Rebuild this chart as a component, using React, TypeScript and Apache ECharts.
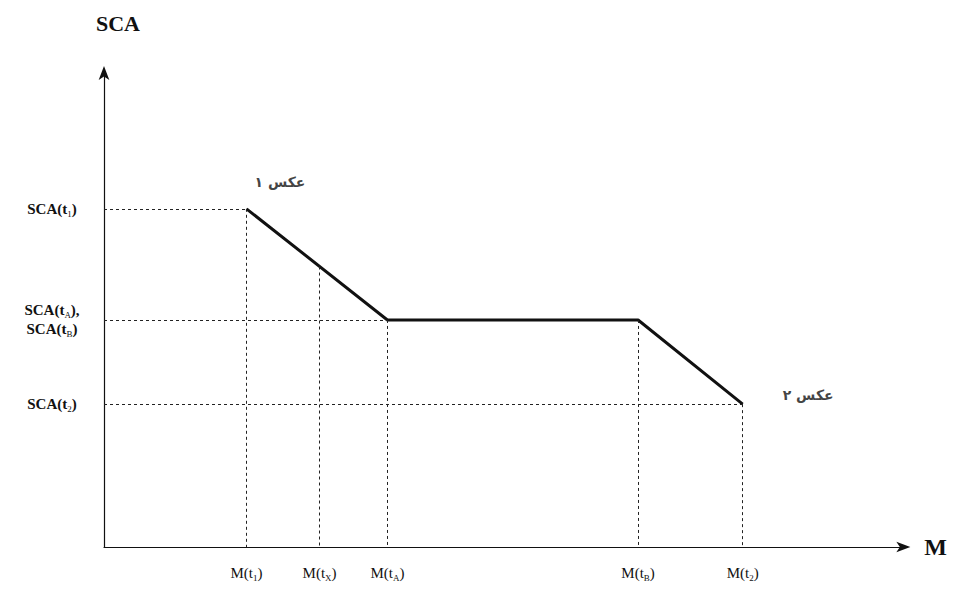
import { useEffect, useRef } from 'react'
import * as echarts from 'echarts'

// x positions of the M(t) ticks and their subscripts
const xTicks = [17.85, 27, 35.5, 66.9, 80]
const xSubs = ['1', 'X', 'A', 'B', '2']
// y levels of SCA ticks
const yTicks = [30.2, 48, 71.5]
const yLabels = ['{b|SCA(t}{s|2}{b|)}', '{b|SCA(t}{s|A}{b|),}\n{b|SCA(t}{s|B}{b|)}', '{b|SCA(t}{s|1}{b|)}']
// the SCA curve
const curveX = [17.85, 35.5, 66.9, 80]
const curveY = [71.5, 48, 48, 30.2]
const xPointY = 59.3
const photoLabels = ['عکس ۱', 'عکس ۲']

export default function App() {
  const ref = useRef<HTMLDivElement>(null)

  useEffect(() => {
    if (!ref.current) return
    const chart = echarts.init(ref.current, null, { renderer: 'svg' })
    const rich = {
      a: { fontFamily: 'Liberation Serif', fontSize: 15, color: '#111', lineHeight: 19 },
      b: { fontFamily: 'Liberation Serif', fontSize: 15, fontWeight: 'bold', color: '#111', lineHeight: 19 },
      s: { fontFamily: 'Liberation Serif', fontSize: 9, color: '#111', verticalAlign: 'bottom', lineHeight: 19, padding: [8, 0, 0, 0] }
    }
    const dash = { type: [3, 3] as any, color: '#222', width: 1 }
    const lines: any[] = [
      [{ coord: [0, curveY[0]] }, { coord: [curveX[0], curveY[0]] }],
      [{ coord: [0, curveY[1]] }, { coord: [curveX[1], curveY[1]] }],
      [{ coord: [0, curveY[3]] }, { coord: [curveX[3], curveY[3]] }],
      [{ coord: [xTicks[1], xPointY] }, { coord: [xTicks[1], 0] }],
      ...curveX.map((x, i) => [{ coord: [x, curveY[i]] }, { coord: [x, 0] }])
    ]
    chart.setOption({
      animation: false,
      grid: { left: 96, right: 45, top: 66, bottom: 24 },
      xAxis: {
        type: 'value', min: 0, max: 100,
        splitLine: { show: false },
        axisLine: { lineStyle: { color: '#111', width: 1.2 }, symbol: ['none', 'arrow'], symbolSize: [8, 14], symbolOffset: [0, 8] },
        axisTick: { show: false },
        axisLabel: {
          customValues: xTicks, margin: 16, rich,
          formatter: (v: number) => '{a|M(t}{s|' + xSubs[xTicks.indexOf(v)] + '}{a|)}'
        },
        name: 'M', nameGap: 22,
        nameTextStyle: { fontFamily: 'Liberation Serif', fontSize: 24, fontWeight: 'bold', color: '#111' }
      },
      yAxis: {
        type: 'value', min: 0, max: 100,
        splitLine: { show: false },
        axisLine: { show: true, lineStyle: { color: '#111', width: 1.2 }, symbol: ['none', 'arrow'], symbolSize: [8, 14], symbolOffset: [0, 8] },
        axisTick: { show: false },
        axisLabel: {
          customValues: yTicks, margin: 52, rich, align: 'center',
          formatter: (v: number) => yLabels[yTicks.indexOf(v)]
        },
        name: 'SCA', nameGap: 40, nameLocation: 'end',
        nameTextStyle: { fontFamily: 'Liberation Serif', fontSize: 22, fontWeight: 'bold', color: '#111', align: 'left', padding: [0, 0, 0, -8] }
      },
      series: [
        {
          type: 'line',
          data: curveX.map((x, i) => [x, curveY[i]]),
          symbol: 'none',
          lineStyle: { color: '#111', width: 3 },
          markLine: { silent: true, symbol: 'none', label: { show: false }, lineStyle: dash, data: lines }
        },
        {
          type: 'scatter',
          data: [
            { value: [curveX[0], curveY[0]], label: { position: [8, -34] } },
            { value: [curveX[3], curveY[3]], label: { position: [40, -16] } }
          ],
          symbolSize: 0,
          label: {
            show: true,
            formatter: (p: any) => photoLabels[p.dataIndex],
            fontFamily: 'DejaVu Sans', fontSize: 14, fontWeight: 'bold', color: '#111'
          }
        }
      ]
    })
    return () => chart.dispose()
  }, [])

  return <div ref={ref} style={{ width: 942, height: 574, background: '#fff' }} />
}
